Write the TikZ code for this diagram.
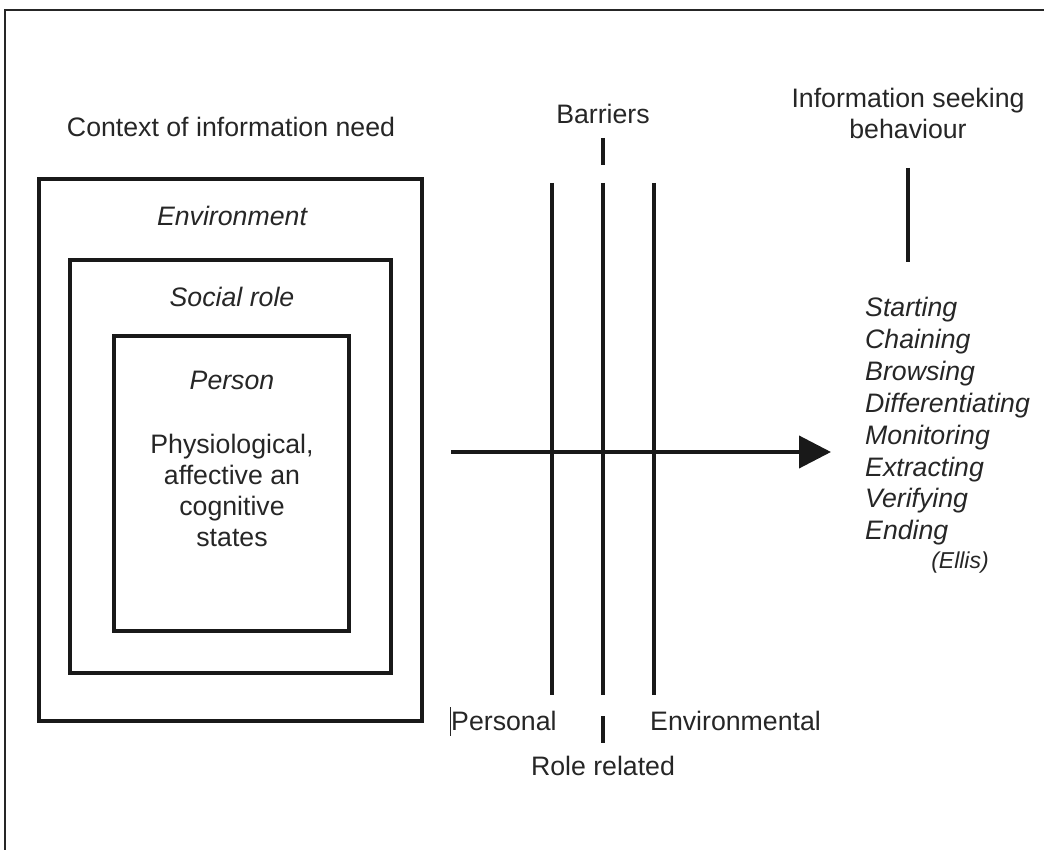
\documentclass[tikz,border=0pt]{standalone}
\usepackage{fontspec}
\setmainfont{Liberation Sans}
\usetikzlibrary{arrows.meta}
\begin{document}
\begin{tikzpicture}[x=1pt,y=-1pt,
  lbl/.style={inner sep=0pt, font=\fontsize{26.7}{31}\selectfont, text=black!85},
  itl/.style={lbl, font=\fontsize{26.7}{31}\selectfont\itshape},
  box/.style={draw=black!90, line width=3.8pt},
  bar/.style={draw=black!90, line width=3.8pt}]
\useasboundingbox (0,0) rectangle (1044,850);
% frame
\draw[line width=2pt, black!85] (1044,10) -- (5,10) -- (5,850);
% context
\node[lbl] (ctx) at (231,127) {Context of information need};
\node[box, minimum width=383pt, minimum height=542pt] (env) at (230.5,450) {};
\node[box, minimum width=321pt, minimum height=413pt] (soc) at (230.5,466.5) {};
\node[box, minimum width=235pt, minimum height=295pt] (per) at (231.5,483.5) {};
\node[itl] (envt) at (232,216) {Environment};
\node[itl] (soct) at (232,297) {Social role};
\node[itl] (pert) at (232,380) {Person};
\node[lbl, align=center] (states) at (232,490) {Physiological,\\affective an\\cognitive\\states};
% barriers
\node[lbl] (barr) at (603,114) {Barriers};
\coordinate (b1t) at (552,183); \coordinate (b1b) at (552,695);
\coordinate (b2t) at (603,183); \coordinate (b2b) at (603,695);
\coordinate (b3t) at (654,183); \coordinate (b3b) at (654,695);
\draw[bar] (b1t) -- (b1b);
\draw[bar] (b2t) -- (b2b);
\draw[bar] (b3t) -- (b3b);
\coordinate (d1t) at (603,138); \coordinate (d1b) at (603,165);
\draw[bar] (d1t) -- (d1b);
\coordinate (d2t) at (603,716); \coordinate (d2b) at (603,743);
\draw[bar] (d2t) -- (d2b);
\node[lbl, anchor=west] (pers) at (451,721) {Personal};
\coordinate (cur1) at (450,707); \coordinate (cur2) at (450,736);
\draw[line width=1pt, black!85] (cur1) -- (cur2);
\node[lbl, anchor=west] (envl) at (650,721) {Environmental};
\node[lbl] (role) at (603,766) {Role related};
% arrow
\coordinate (as) at (451,452); \coordinate (ae) at (831,452);
\draw[line width=4pt, black!90, -{Triangle[length=32pt,width=32pt]}] (as) -- (ae);
% ISB
\node[lbl, align=center] (isb) at (908,113) {Information seeking\\behaviour};
\coordinate (v1) at (908,168); \coordinate (v2) at (908,262);
\draw[bar] (v1) -- (v2);
\node[itl, anchor=north west, align=left, font=\fontsize{26.7}{31.9}\selectfont\itshape] (list) at (865,297) {Starting\\Chaining\\Browsing\\Differentiating\\Monitoring\\Extracting\\Verifying\\Ending};
\node[itl, font=\fontsize{23}{25}\selectfont\itshape] (ellis) at (960,563) {(Ellis)};
\end{tikzpicture}
\end{document}
